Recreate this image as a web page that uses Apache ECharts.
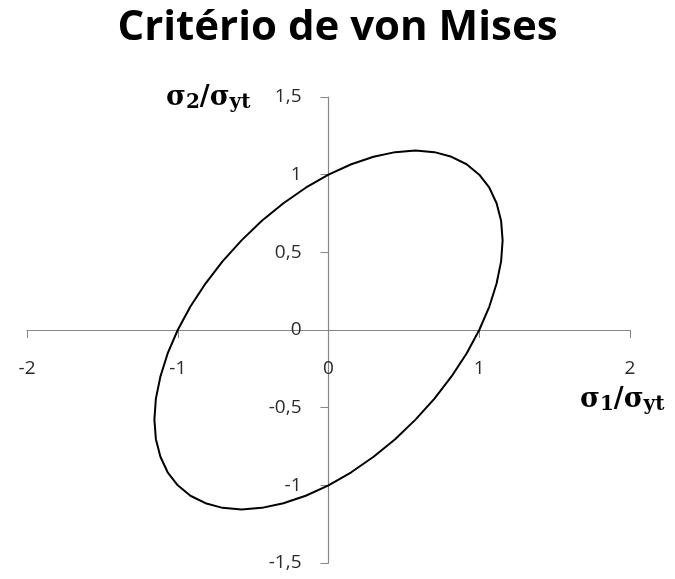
<!DOCTYPE html>
<html>
<head>
<meta charset="utf-8">
<script src="https://cdn.jsdelivr.net/npm/echarts@6/dist/echarts.min.js"></script>
<style>
  html, body { margin: 0; padding: 0; background: #fff; }
  #chart { width: 675px; height: 579px; }
</style>
</head>
<body>
<div id="chart"></div>
<script>
// Normalised principal stresses (σ1/σyt, σ2/σyt) along the von Mises yield locus
const sigma1 = [
   1.000,  0.916,  0.816,  0.703,  0.577,  0.442,  0.299,  0.151,
   0.000, -0.151, -0.299, -0.442, -0.577, -0.703, -0.816, -0.916,
  -1.000, -1.067, -1.115, -1.145, -1.155, -1.145, -1.115, -1.067,
  -1.000, -0.916, -0.816, -0.703, -0.577, -0.442, -0.299, -0.151,
   0.000,  0.151,  0.299,  0.442,  0.577,  0.703,  0.816,  0.916,
   1.000,  1.067,  1.115,  1.145,  1.155,  1.145,  1.115,  1.067,
   1.000
];
const sigma2 = [
   1.000,  1.067,  1.115,  1.145,  1.155,  1.145,  1.115,  1.067,
   1.000,  0.916,  0.816,  0.703,  0.577,  0.442,  0.299,  0.151,
   0.000, -0.151, -0.299, -0.442, -0.577, -0.703, -0.816, -0.916,
  -1.000, -1.067, -1.115, -1.145, -1.155, -1.145, -1.115, -1.067,
  -1.000, -0.916, -0.816, -0.703, -0.577, -0.442, -0.299, -0.151,
   0.000,  0.151,  0.299,  0.442,  0.577,  0.703,  0.816,  0.916,
   1.000
];

const xTicks = [-2, -1, 0, 1, 2];
const yTicks = [-1.5, -1, -0.5, 0, 0.5, 1, 1.5];

const titleText = 'Critério de von Mises';

const fmt = v => String(v).replace('.', ',');
const axisGray = '#868686';
const labelFont = '"Open Sans", "Noto Sans", sans-serif';
const nameFont = '"DejaVu Serif", "Liberation Serif", serif';

// plot area in pixels; the axes cross at the centre of it
const G = { left: 27, right: 45, top: 97, bottom: 16 };
const W = 675 - G.left - G.right;
const H = 579 - G.top - G.bottom;

const chart = echarts.init(document.getElementById('chart'), null, { renderer: 'canvas' });

const nameRich = {
  s: { fontFamily: nameFont, fontWeight: 'bold', fontSize: 27, fill: '#000' },
  sub: { fontFamily: nameFont, fontWeight: 'bold', fontSize: 20, fill: '#000', padding: [10, 0, 0, 0] }
};

chart.setOption({
  animation: false,
  backgroundColor: '#ffffff',
  title: {
    text: titleText,
    left: 'center',
    top: 2,
    textStyle: {
      fontFamily: '"Open Sans", "Noto Sans", sans-serif',
      fontWeight: 'bold',
      fontSize: 42,
      color: '#000'
    }
  },
  grid: Object.assign({ containLabel: false, outerBoundsMode: 'none' }, G),
  xAxis: {
    type: 'value',
    position: 'bottom',
    offset: -H / 2,
    min: xTicks[0],
    max: xTicks[xTicks.length - 1],
    interval: 1,
    axisLine: { onZero: false, lineStyle: { color: axisGray, width: 1.2 } },
    axisTick: { show: true, length: 8, lineStyle: { color: axisGray } },
    splitLine: { show: false },
    axisLabel: {
      margin: 29,
      fontFamily: labelFont,
      fontSize: 19,
      color: '#2a2a2a',
      formatter: fmt
    }
  },
  yAxis: {
    type: 'value',
    position: 'left',
    offset: -W / 2,
    min: yTicks[0],
    max: yTicks[yTicks.length - 1],
    interval: 0.5,
    axisLine: { onZero: false, lineStyle: { color: axisGray, width: 1.2 } },
    axisTick: { show: true, length: 8, lineStyle: { color: axisGray } },
    splitLine: { show: false },
    axisLabel: {
      margin: 27,
      fontFamily: labelFont,
      fontSize: 19,
      color: '#2a2a2a',
      formatter: fmt
    }
  },
  series: [{
    type: 'line',
    data: sigma1.map((s, i) => [s, sigma2[i]]),
    smooth: false,
    showSymbol: false,
    lineStyle: { color: '#000', width: 2, join: 'round' }
  }],
  graphic: [
    {
      type: 'text',
      left: 166,
      top: 84,
      style: { text: '{s|σ}{sub|2}{s|/σ}{sub|yt}', rich: nameRich }
    },
    {
      type: 'text',
      left: 580,
      top: 386,
      style: { text: '{s|σ}{sub|1}{s|/σ}{sub|yt}', rich: nameRich }
    }
  ]
});
</script>
</body>
</html>
